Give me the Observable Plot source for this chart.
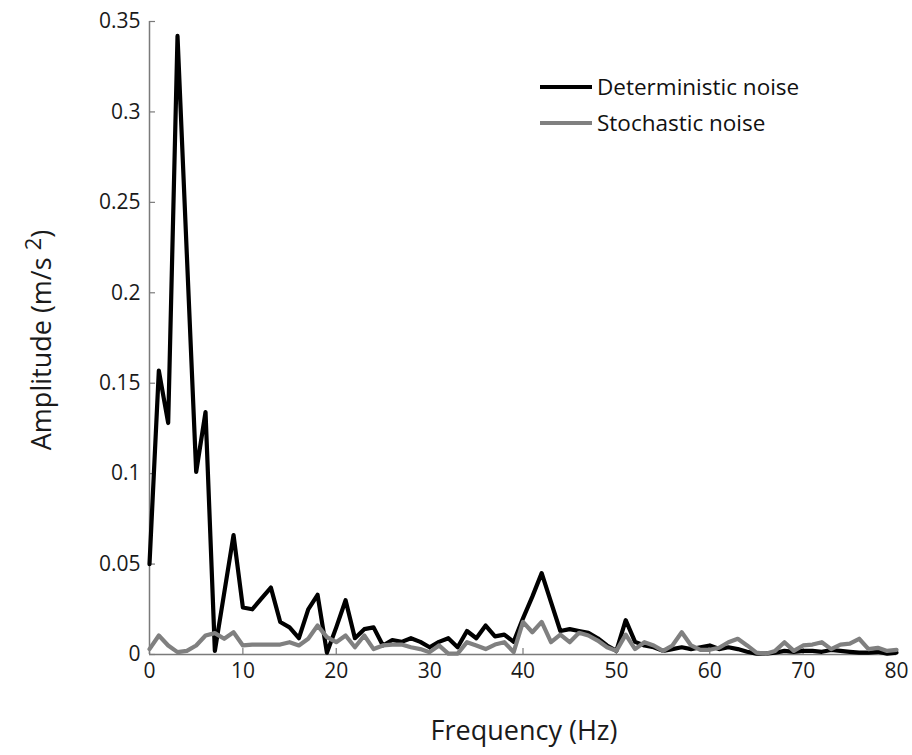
<!DOCTYPE html>
<html><head><meta charset="utf-8">
<script src="https://cdn.jsdelivr.net/npm/d3@7"></script>
<script src="https://cdn.jsdelivr.net/npm/@observablehq/plot@0.6"></script>
<style>
body{margin:0;background:#fff;}
#wrap{position:relative;width:912px;height:755px;font-family:"Open Sans",sans-serif;}
.legend{position:absolute;left:540px;top:69px;font-size:22.5px;color:#111;line-height:1;}
.legend .row{display:flex;align-items:center;height:36px;}
.legend .sw{display:inline-block;width:52px;height:4px;margin-right:5px;}
</style></head><body><div id="wrap"></div>
<script>
const frequency = d3.range(0, 81);
const deterministic = [0.05,0.157,0.128,0.342,0.221,0.101,0.134,0.002,0.034,0.066,
  0.026,0.025,0.031,0.037,0.018,0.015,0.009,0.025,0.033,0.001,
  0.015,0.030,0.009,0.014,0.015,0.005,0.008,0.007,0.009,0.007,
  0.004,0.007,0.009,0.004,0.013,0.009,0.016,0.010,0.011,0.007,
  0.020,0.032,0.045,0.029,0.013,0.014,0.013,0.012,0.009,0.005,
  0.002,0.019,0.007,0.005,0.004,0.002,0.003,0.004,0.003,0.004,
  0.005,0.003,0.004,0.003,0.0015,0.0005,0.0005,0.001,0.002,0.0015,
  0.002,0.002,0.0015,0.0025,0.002,0.0015,0.001,0.001,0.0015,0.0005,0.001];
const stochastic = [0.003,0.0105,0.005,0.0013,0.002,0.005,0.0105,0.0118,0.0087,0.0123,
  0.005,0.0055,0.0055,0.0055,0.0055,0.0068,0.005,0.0087,0.016,0.0096,
  0.0068,0.0105,0.004,0.0105,0.003,0.005,0.0055,0.0055,0.004,0.003,
  0.0013,0.005,0.0005,0.0005,0.0068,0.005,0.003,0.0055,0.0068,0.0013,
  0.018,0.0123,0.018,0.0068,0.011,0.0068,0.012,0.0105,0.0077,0.004,
  0.002,0.011,0.003,0.0068,0.005,0.002,0.005,0.0123,0.005,0.0026,
  0.0026,0.0037,0.0068,0.0087,0.005,0.001,0.0004,0.002,0.0068,0.002,
  0.005,0.0055,0.0068,0.003,0.0055,0.006,0.0087,0.003,0.0037,0.002,0.0026];
const seriesNames = ["Deterministic noise", "Stochastic noise"];
const seriesColors = ["#000000", "#808080"];
const xTicks = [0,10,20,30,40,50,60,70,80];
const yTicks = [0,0.05,0.1,0.15,0.2,0.25,0.3,0.35];
const yTickLabels = ["0","0.05","0.1","0.15","0.2","0.25","0.3","0.35"];

const rows = [];
frequency.forEach((f, i) => {
  rows.push({f, a: deterministic[i], s: seriesNames[0]});
});
frequency.forEach((f, i) => {
  rows.push({f, a: stochastic[i], s: seriesNames[1]});
});

const W = 912, H = 755, mL = 149, mR = 16, mT = 21, mB = 101;
const fw = W - mL - mR, fh = H - mT - mB;
const axisColor = "#7a7a7a";

const chart = Plot.plot({
  width: W, height: H,
  marginLeft: mL, marginRight: mR, marginTop: mT, marginBottom: mB,
  style: {fontFamily: "'Open Sans', sans-serif", fontSize: "21px", color: "#1a1a1a", background: "#fff"},
  x: {domain: [0, 80]},
  y: {domain: [0, 0.35]},
  color: {domain: seriesNames, range: seriesColors},
  marks: [
    Plot.ruleX([0], {stroke: axisColor, strokeWidth: 1.5}),
    Plot.ruleY([0], {stroke: axisColor, strokeWidth: 1.5}),
    Plot.tickY(yTicks, {y: d => d, stroke: axisColor, strokeWidth: 1.2, insetRight: fw - 6}),
    Plot.tickX(xTicks, {x: d => d, stroke: axisColor, strokeWidth: 1.2, insetTop: fh - 6}),
    Plot.axisY({ticks: yTicks, tickSize: 0, tickPadding: 9, label: null,
      tickFormat: (d) => yTickLabels[yTicks.indexOf(d)], fontSize: 21}),
    Plot.axisX({ticks: xTicks, tickSize: 0, tickPadding: 9, label: null, fontSize: 21}),
    Plot.line(rows, {x: "f", y: "a", z: "s", stroke: "s", strokeWidth: 4.2, strokeLinejoin: "round"})
  ]
});

const wrap = document.getElementById("wrap");
wrap.appendChild(chart);

const svg = d3.select(chart);
const yt = svg.append("text")
  .attr("transform", "translate(51,340) rotate(-90)")
  .attr("text-anchor", "middle")
  .attr("font-size", 27)
  .attr("fill", "#1a1a1a")
  .attr("font-family", "'Open Sans', sans-serif");
yt.append("tspan").text("Amplitude (m/s ");
yt.append("tspan").attr("dy", -10).attr("font-size", 22).text("2");
yt.append("tspan").attr("dy", 10).text(")");

svg.append("text")
  .attr("x", 524).attr("y", 740)
  .attr("text-anchor", "middle")
  .attr("font-size", 27)
  .attr("fill", "#1a1a1a")
  .attr("font-family", "'Open Sans', sans-serif")
  .text("Frequency (Hz)");

const legend = document.createElement("div");
legend.className = "legend";
seriesNames.forEach((n, i) => {
  const r = document.createElement("div");
  r.className = "row";
  const sw = document.createElement("span");
  sw.className = "sw";
  sw.style.background = seriesColors[i];
  r.appendChild(sw);
  const t = document.createElement("span");
  t.textContent = n;
  r.appendChild(t);
  legend.appendChild(r);
});
wrap.appendChild(legend);
</script></body></html>
